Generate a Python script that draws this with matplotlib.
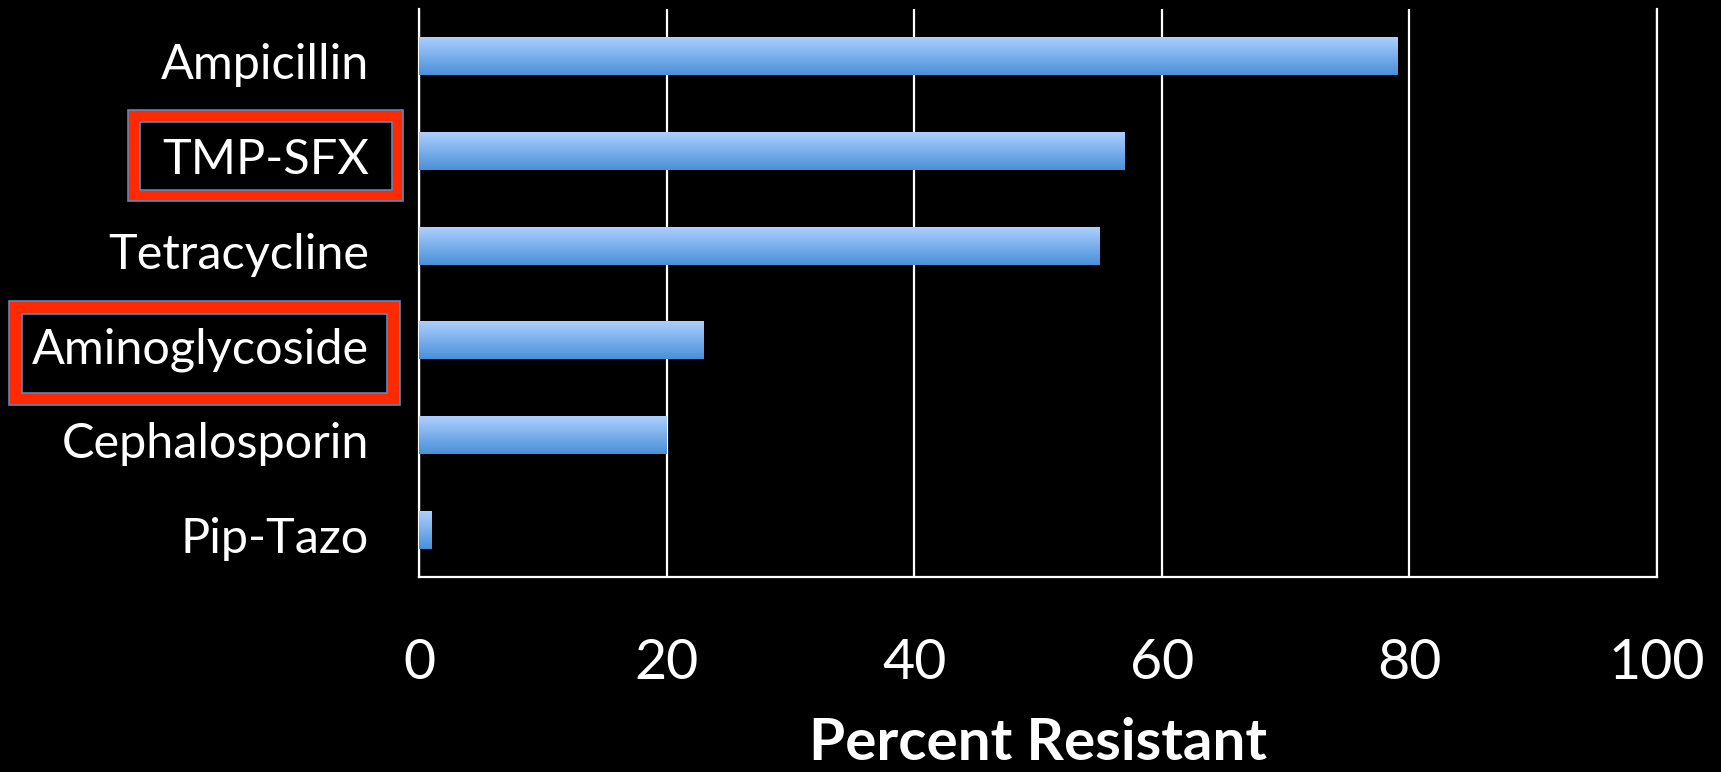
import numpy as np
import matplotlib
matplotlib.use("Agg")
import matplotlib.pyplot as plt
import matplotlib.transforms as mtransforms
from matplotlib.patches import Rectangle

# Antibiotic resistance data
drugs = ["Ampicillin", "TMP-SFX", "Tetracycline", "Aminoglycoside", "Cephalosporin", "Pip-Tazo"]
percent_resistant = [79, 57, 55, 23, 20, 1]
x_ticks = [0, 20, 40, 60, 80, 100]
highlighted = ["TMP-SFX", "Aminoglycoside"]

W, H = 1721, 772
DPI = 100
FONT = "Lato"

fig = plt.figure(figsize=(W / DPI, H / DPI), dpi=DPI, facecolor="black")
ax = fig.add_axes([419 / W, 1 - 577 / H, (1657 - 419) / W, (577 - 9) / H])
ax.set_facecolor("black")

ypos = np.arange(len(drugs))
bar_h = 0.4
bars = ax.barh(ypos, percent_resistant, height=bar_h, color="none", zorder=3)

# vertical light-to-dark blue gradient inside each bar
top_c = np.array([172, 207, 254]) / 255
bot_c = np.array([74, 144, 216]) / 255
t = np.linspace(0, 1, 64)[:, None]
grad = (top_c[None, :] * (1 - t) + bot_c[None, :] * t)[:, None, :]
for b in bars:
    x0, y0 = b.get_x(), b.get_y()
    w, h = b.get_width(), b.get_height()
    ax.imshow(grad, extent=[x0, x0 + w, y0 + h, y0], origin="upper",
              aspect="auto", interpolation="bilinear", zorder=3)

ax.set_xlim(0, 100)
ax.set_ylim(len(drugs) - 0.5, -0.5)
ax.set_xticks(x_ticks)
ax.set_xticklabels([str(v) for v in x_ticks])
ax.set_yticks(ypos)
ax.set_yticklabels(drugs)

ax.grid(axis="x", color="white", linewidth=1.6, zorder=1)
ax.set_axisbelow(True)
ax.spines["top"].set_visible(False)
for side in ["left", "bottom", "right"]:
    ax.spines[side].set_color("white")
    ax.spines[side].set_linewidth(1.6)

ax.tick_params(axis="both", length=0, colors="white")
ax.tick_params(axis="x", pad=44, labelsize=40)
ax.tick_params(axis="y", pad=36, labelsize=35)
shift_down = mtransforms.ScaledTranslation(0, -5 / DPI, fig.dpi_scale_trans)
for lab in ax.get_xticklabels():
    lab.set_fontfamily(FONT)
    lab.set_color("white")
for lab in ax.get_yticklabels():
    lab.set_fontfamily(FONT)
    lab.set_color("white")
    lab.set_transform(lab.get_transform() + shift_down)

ax.set_xlabel("Percent Resistant", fontsize=42, fontweight="bold",
              fontfamily=FONT, color="white", va="bottom")
ax.xaxis.set_label_coords(0.5, -193 / 568)

# red highlight frames around selected category labels (figure pixel boxes)
frames = {
    "TMP-SFX": ((128, 110, 403, 201), (140, 122, 392, 190)),
    "Aminoglycoside": ((9, 301, 400, 405), (22, 314, 387, 393)),
}
red = "#ff2a00"
blue = "#5b86c0"


def px_rect(box, **kw):
    x0, y0, x1, y1 = box
    return Rectangle((x0 / W, 1 - y1 / H), (x1 - x0) / W, (y1 - y0) / H,
                     transform=fig.transFigure, **kw)


for name in highlighted:
    outer, inner = frames[name]
    fig.patches.append(px_rect(outer, facecolor=red, edgecolor=blue, linewidth=1.2, zorder=-2))
    fig.patches.append(px_rect(inner, facecolor="black", edgecolor=blue, linewidth=1.2, zorder=-1))

fig.savefig("out.png", dpi=DPI, facecolor="black")
